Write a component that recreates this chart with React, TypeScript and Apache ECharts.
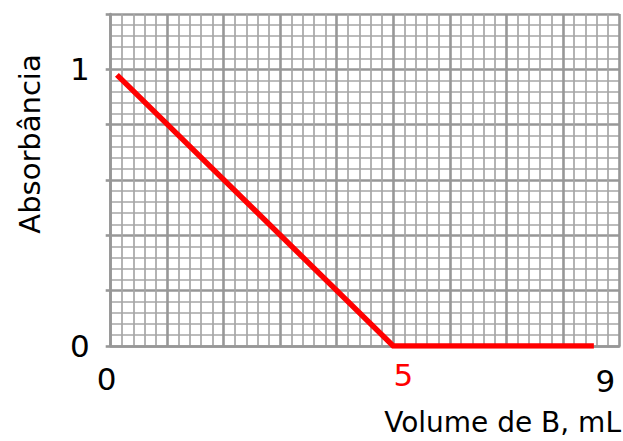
import React, { useEffect, useRef } from "react";
import * as echarts from "echarts";

const xValues = [0.11, 5, 8.55];
const yValues = [0.98, 0, 0];
const xTickLabels = ["0", "5", "9"];
const yTickLabels = ["0", "1"];
const xName = "Volume de B, mL";
const yName = "Absorbância";

const FONT = "DejaVu Sans";
const MAJOR = "#979797";
const MINOR = "#a6a6a6";

export default function App() {
  const ref = useRef<HTMLDivElement>(null);
  useEffect(() => {
    if (!ref.current) return;
    const chart = echarts.init(ref.current, null, { renderer: "svg" });
    const data = xValues.map((x, i) => [x, yValues[i]]);
    chart.setOption({
      animation: false,
      backgroundColor: "#ffffff",
      grid: { left: 110.7, top: 14, right: 3.7, bottom: 95 },
      xAxis: {
        type: "value",
        min: 0,
        max: 9,
        interval: 1,
        axisLine: { show: true, lineStyle: { color: MAJOR, width: 2.6 } },
        axisTick: { show: false },
        splitLine: { show: true, lineStyle: { color: MAJOR, width: 2.6 } },
        minorTick: { show: false, splitNumber: 5 },
        minorSplitLine: { show: true, lineStyle: { color: MINOR, width: 1.7 } },
        axisLabel: {
          margin: 13,
          fontSize: 31,
          fontFamily: FONT,
          color: "#000",
          formatter: (v: number) => {
            const s = String(Math.round(v));
            if (!xTickLabels.includes(s)) return "";
            if (s === "0") return "{a|" + s + "}";
            if (s === "5") return "{b|" + s + "}";
            return "{c|" + s + "}";
          },
          rich: {
            a: { fontSize: 31, fontFamily: FONT, color: "#000", padding: [4, 8, 0, 0] },
            b: { fontSize: 31, fontFamily: FONT, color: "#ff0000", padding: [0, 0, 0, 20] },
            c: { fontSize: 31, fontFamily: FONT, color: "#000", padding: [6, 28, 0, 0] },
          },
        },
      },
      yAxis: {
        type: "value",
        min: 0,
        max: 1.2,
        interval: 0.2,
        axisLine: { show: true, lineStyle: { color: MAJOR, width: 2.6 } },
        axisTick: { show: true, length: 5, lineStyle: { color: MAJOR, width: 2.6 } },
        splitLine: { show: true, lineStyle: { color: MAJOR, width: 2.6 } },
        minorTick: { show: false, splitNumber: 5 },
        minorSplitLine: { show: true, lineStyle: { color: MINOR, width: 1.7 } },
        axisLabel: {
          margin: 21,
          fontSize: 31,
          fontFamily: FONT,
          color: "#000",
          formatter: (v: number) => {
            const s = String(Math.round(v * 1000) / 1000);
            return yTickLabels.includes(s) ? s : "";
          },
        },
      },
      series: [
        {
          type: "line",
          data,
          symbol: "none",
          lineStyle: { color: "#ff0000", width: 5.5, cap: "butt", join: "miter" },
        },
      ],
      graphic: [
        {
          type: "text",
          x: 30,
          y: 144,
          rotation: Math.PI / 2,
          style: {
            text: yName,
            fontSize: 29,
            fontFamily: FONT,
            fill: "#000",
            align: "center",
            verticalAlign: "middle",
          },
        },
        {
          type: "text",
          x: 621,
          y: 422,
          style: {
            text: xName,
            fontSize: 28,
            fontFamily: FONT,
            fill: "#000",
            align: "right",
            verticalAlign: "middle",
          },
        },
      ],
    });
    return () => chart.dispose();
  }, []);
  return <div ref={ref} style={{ width: 623, height: 441, position: "fixed", left: 0, top: 0 }} />;
}
